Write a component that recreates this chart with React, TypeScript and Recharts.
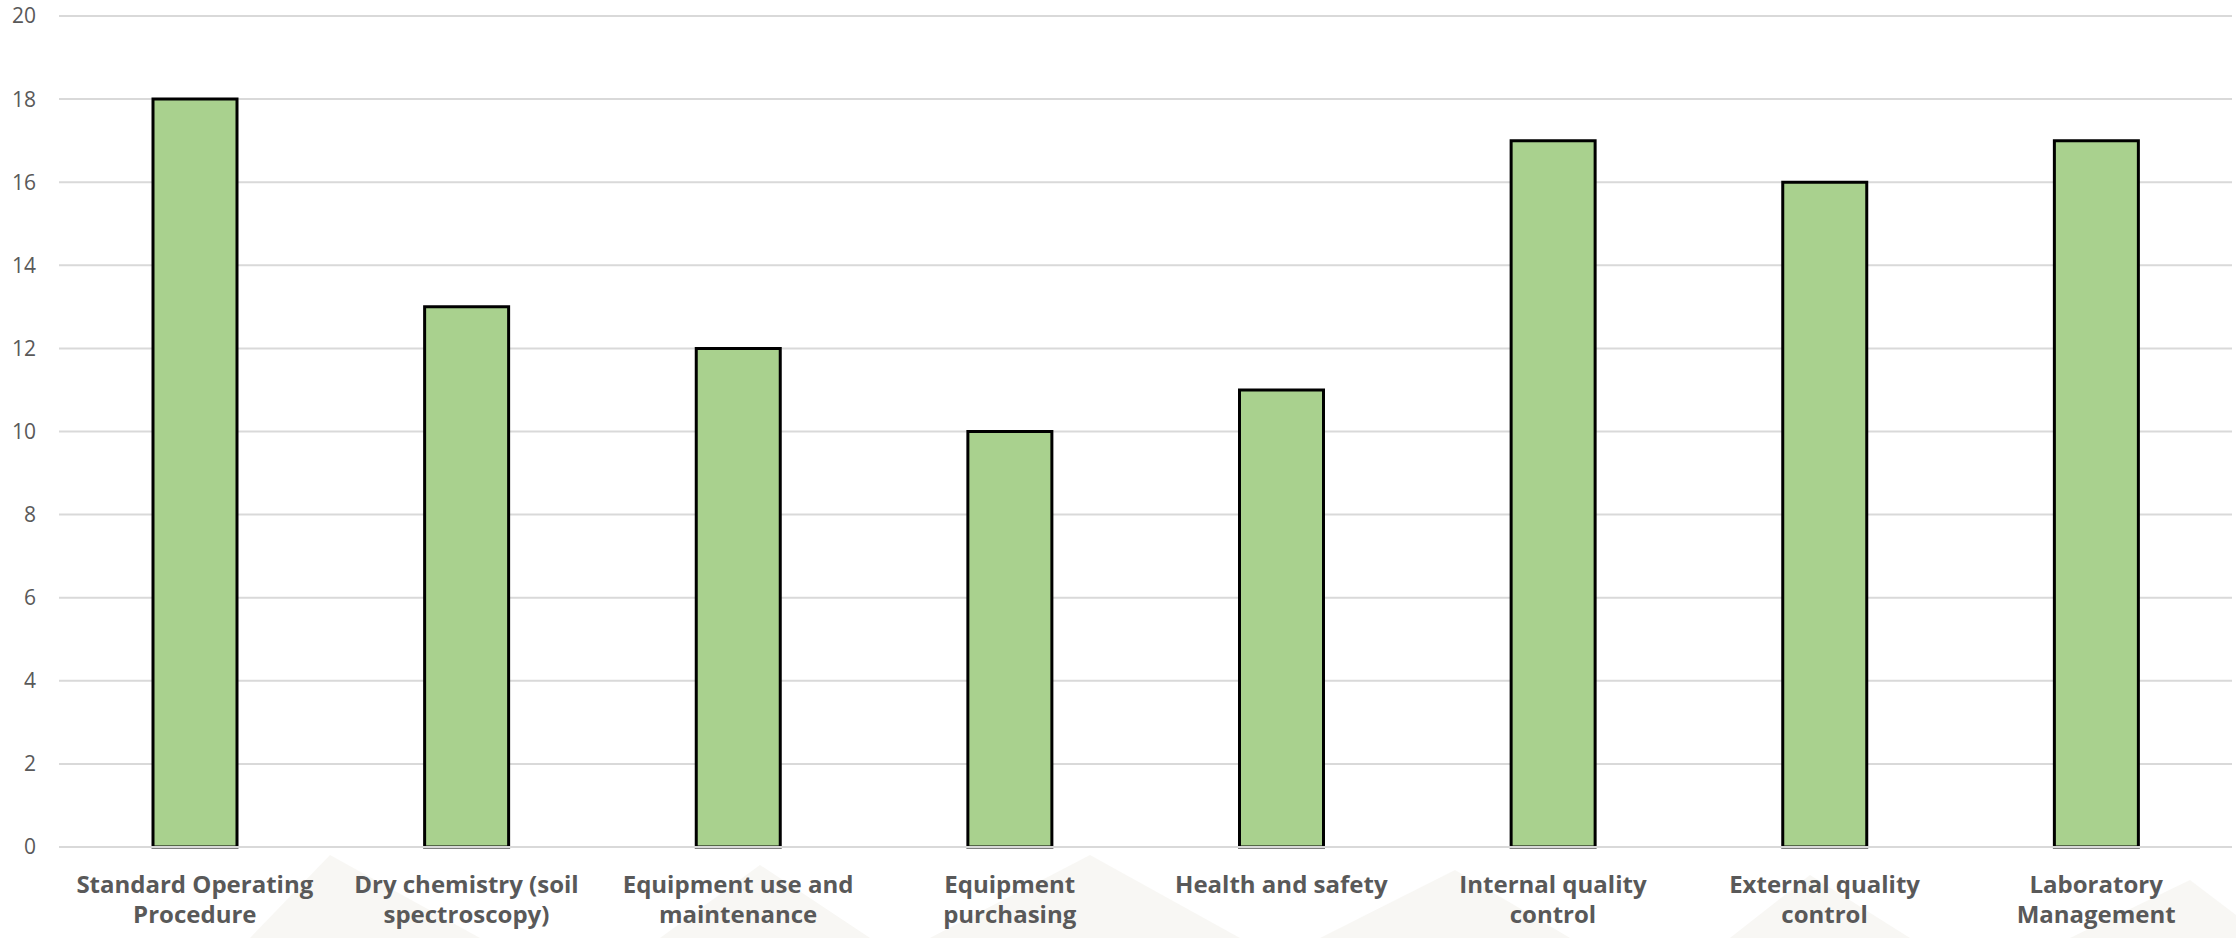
import { BarChart, Bar, XAxis, YAxis, CartesianGrid } from 'recharts';

const categories = [
  'Standard Operating Procedure',
  'Dry chemistry (soil spectroscopy)',
  'Equipment use and maintenance',
  'Equipment purchasing',
  'Health and safety',
  'Internal quality control',
  'External quality control',
  'Laboratory Management',
];
const counts = [18, 13, 12, 10, 11, 17, 16, 17];
const yTicks = [0, 2, 4, 6, 8, 10, 12, 14, 16, 18, 20];

const data = categories.map((name, i) => ({ name, value: counts[i] }));

const FONT = '"Open Sans", sans-serif';
const TEXT = '#595959';

// greedy word wrap, roughly the width Excel gives each label
function wrap(label: string, max = 19) {
  const lines: string[] = [];
  let cur = '';
  for (const w of label.split(' ')) {
    const next = cur ? cur + ' ' + w : w;
    if (next.length > max && cur) {
      lines.push(cur);
      cur = w;
    } else {
      cur = next;
    }
  }
  if (cur) lines.push(cur);
  return lines;
}

function CategoryTick({ x, y, payload }: any) {
  const lines = wrap(payload.value);
  return (
    <text x={x} y={y} textAnchor="middle" fill={TEXT} fontFamily={FONT} fontSize={24} fontWeight={700}>
      {lines.map((l, i) => (
        <tspan key={i} x={x} dy={i === 0 ? 38 : 30}>{l}</tspan>
      ))}
    </text>
  );
}

export default function App() {
  return (
    <div style={{ position: 'absolute', left: 0, top: 0, width: 2236, height: 938, background: '#fff' }}>
      <svg width={2236} height={938} style={{ position: 'absolute', left: 0, top: 0 }}>
        <g fill="#f4f2ed" opacity={0.6}>
          <polygon points="250,938 330,855 480,938" />
          <polygon points="660,938 760,865 870,938" />
          <polygon points="930,938 1090,855 1240,938" />
          <polygon points="1320,938 1455,870 1570,938" />
          <polygon points="1730,938 1810,875 1910,938" />
          <polygon points="2070,938 2190,880 2236,915 2236,938" />
        </g>
      </svg>
      <div style={{ position: 'absolute', left: 0, top: 0 }}>
        <BarChart width={2236} height={938} data={data} margin={{ top: 16, right: 4, left: 0, bottom: 0 }}>
          <CartesianGrid vertical={false} stroke="#d9d9d9" strokeWidth={2} />
          <XAxis
            dataKey="name"
            height={91}
            interval={0}
            axisLine={{ stroke: '#d9d9d9', strokeWidth: 2 }}
            tickLine={false}
            tick={<CategoryTick />}
          />
          <YAxis
            width={59}
            domain={[0, 20]}
            ticks={yTicks}
            axisLine={false}
            tickLine={false}
            tickSize={0}
            tickMargin={23}
            tick={{ fill: TEXT, fontFamily: FONT, fontSize: 21 }}
          />
          <Bar dataKey="value" fill="#a9d18e" stroke="#000" strokeWidth={3} barSize={84} isAnimationActive={false} />
        </BarChart>
      </div>
    </div>
  );
}
